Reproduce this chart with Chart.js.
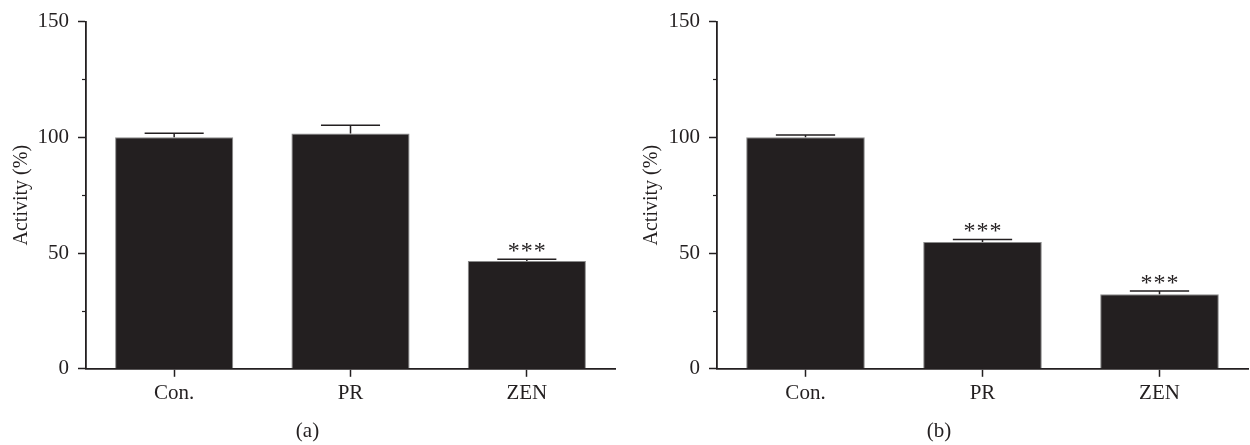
<!DOCTYPE html>
<html lang="en">
<head>
  <meta charset="UTF-8" />
  <title>Activity (%)</title>
  <script src="https://cdn.jsdelivr.net/npm/chart.js"></script>
  <style>
    body {
      margin: 0;
      padding: 0;
      background: #fff;
      width: 1250px;
      height: 445px;
      position: relative;
      overflow: hidden;
    }
    canvas {
      position: absolute;
      top: 0;
    }
    #chartA { left: 0; }
    #chartB { left: 630px; }
  </style>
</head>
<body>
  <canvas id="chartA" width="620" height="445"></canvas>
  <canvas id="chartB" width="620" height="445"></canvas>

  <script>
    // data
    const groups = ['Con.', 'PR', 'ZEN'];
    const yTicks = [0, 50, 100, 150];
    const minorTicks = [25, 75, 125];

    const activityA = [100, 101.7, 46.6];
    const errorA = [1.8, 3.5, 0.7];
    const starsA = ['', '', '***'];

    const activityB = [100, 54.8, 32.2];
    const errorB = [1.0, 1.1, 1.4];
    const starsB = ['', '***', '***'];

    const INK = '#231f20';
    const FONT = "'Liberation Serif', 'DejaVu Serif', serif";

    // upper error bars + significance stars
    const errorBars = {
      id: 'errorBars',
      afterDatasetsDraw(chart, args, opts) {
        const ctx = chart.ctx;
        const y = chart.scales.y;
        const meta = chart.getDatasetMeta(0);
        const values = chart.data.datasets[0].data;
        ctx.save();
        ctx.strokeStyle = INK;
        ctx.lineWidth = 1.5;
        ctx.fillStyle = INK;
        ctx.font = '24px ' + FONT;
        ctx.textAlign = 'center';
        ctx.textBaseline = 'alphabetic';
        meta.data.forEach((bar, i) => {
          const capY = y.getPixelForValue(values[i] + opts.errors[i]);
          const half = bar.width / 4;
          ctx.beginPath();
          ctx.moveTo(bar.x, bar.y);
          ctx.lineTo(bar.x, capY);
          ctx.moveTo(bar.x - half, capY);
          ctx.lineTo(bar.x + half, capY);
          ctx.stroke();
          const stars = opts.stars[i];
          if (stars) {
            const n = stars.length;
            for (let k = 0; k < n; k++) {
              ctx.fillText('*', bar.x + (k - (n - 1) / 2) * 13, capY - 1);
            }
          }
        });
        ctx.restore();
      }
    };

    // short minor ticks on the value axis
    const minorTickMarks = {
      id: 'minorTickMarks',
      afterDraw(chart) {
        const ctx = chart.ctx;
        const y = chart.scales.y;
        const left = chart.chartArea.left;
        ctx.save();
        ctx.strokeStyle = INK;
        ctx.lineWidth = 1.2;
        minorTicks.forEach(v => {
          const py = Math.round(y.getPixelForValue(v)) + 0.5;
          ctx.beginPath();
          ctx.moveTo(left - 4, py);
          ctx.lineTo(left, py);
          ctx.stroke();
        });
        ctx.restore();
      }
    };

    function makeChart(id, values, errors, stars, tag, axisWidth, padTop, padRight) {
      return new Chart(document.getElementById(id).getContext('2d'), {
        type: 'bar',
        data: {
          labels: groups,
          datasets: [{
            data: values,
            backgroundColor: INK,
            borderColor: '#8a8a8a',
            borderWidth: 1,
            categoryPercentage: 1,
            barPercentage: 0.67
          }]
        },
        options: {
          responsive: false,
          animation: false,
          layout: {
            padding: { top: padTop, right: padRight, left: 0, bottom: 0 }
          },
          plugins: {
            legend: { display: false },
            tooltip: { enabled: false },
            title: {
              display: true,
              position: 'bottom',
              text: tag,
              color: INK,
              font: { family: FONT, size: 21, weight: 'normal' },
              padding: { top: 0, bottom: 1 }
            },
            errorBars: { errors: errors, stars: stars }
          },
          scales: {
            x: {
              grid: {
                drawOnChartArea: false,
                offset: false,
                tickLength: 8,
                tickColor: INK,
                tickWidth: 1.5
              },
              border: { display: true, color: INK, width: 1.8 },
              ticks: {
                color: INK,
                padding: 4,
                font: { family: FONT, size: 21 }
              },
              afterFit(scale) { scale.height = 50; }
            },
            y: {
              min: 0,
              max: 150,
              afterBuildTicks(scale) {
                scale.ticks = yTicks.map(v => ({ value: v }));
              },
              grid: {
                drawOnChartArea: false,
                tickLength: 8,
                tickColor: INK,
                tickWidth: 1.5
              },
              border: { display: true, color: INK, width: 1.8 },
              ticks: {
                color: INK,
                padding: 9,
                font: { family: FONT, size: 21 }
              },
              title: {
                display: true,
                text: 'Activity (%)',
                color: INK,
                font: { family: FONT, size: 20 },
                padding: { top: 10, bottom: 0 }
              },
              afterFit(scale) { scale.width = axisWidth; }
            }
          }
        },
        plugins: [errorBars, minorTickMarks]
      });
    }

    makeChart('chartA', activityA, errorA, starsA, '(a)', 86, 19, 5);
    makeChart('chartB', activityB, errorB, starsB, '(b)', 87, 16, 2);
  </script>
</body>
</html>
